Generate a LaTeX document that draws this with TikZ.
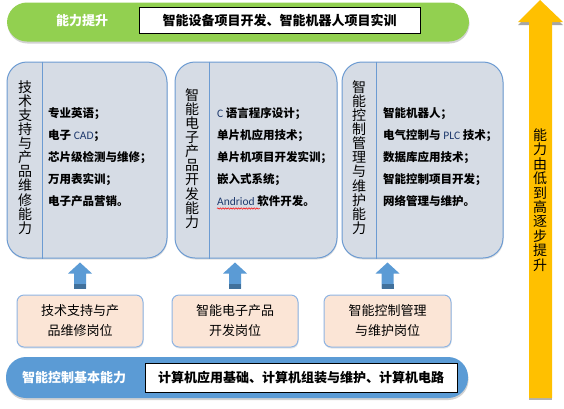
\documentclass[tikz,border=0pt]{standalone}
\usepackage{fontspec}
\setmainfont{Noto Sans CJK SC}
\newfontfamily\latinf{Carlito}
\usetikzlibrary{shadows,calc,decorations.pathmorphing}
\definecolor{greenbar}{HTML}{92D050}
\definecolor{bluebar}{HTML}{5B9BD5}
\definecolor{boxfill}{HTML}{D6DCE5}
\definecolor{boxline}{HTML}{6C9BD2}
\definecolor{pinkfill}{HTML}{FBE5D6}
\definecolor{pinkline}{HTML}{8EB4E3}
\definecolor{yellowarrow}{HTML}{FFC000}
\definecolor{arrowblue}{HTML}{5B9BD5}
\definecolor{arrowdark}{HTML}{41719C}
\definecolor{latinblue}{HTML}{1F3A6E}
\newcommand\lat[1]{{\latinf\mdseries\color{latinblue}#1}}
\newcommand\tightlines{\lineskiplimit=-20pt\relax\lineskip=0pt\relax}
\begin{document}
\begin{tikzpicture}[x=1pt,y=-1pt,
  bar/.style={rounded corners=20pt, inner sep=0pt,
    drop shadow={shadow xshift=0.5pt, shadow yshift=-2pt, opacity=0.35}},
  whitebox/.style={draw=black, line width=0.8pt, fill=white, inner sep=0pt},
  bartext/.style={text=white, font=\fontsize{13}{15}\selectfont\bfseries},
  boxtext/.style={text=black, font=\fontsize{13}{15}\selectfont\bfseries},
  bigbox/.style={draw=boxline, fill=boxfill, line width=1pt, rounded corners=20pt,
    minimum height=196pt, inner sep=0pt,
    drop shadow={shadow xshift=0.5pt, shadow yshift=-1.5pt, opacity=0.25}},
  vtitle/.style={align=center, inner sep=0pt, font=\fontsize{14}{14.1}\selectfont\tightlines},
  content/.style={align=left, anchor=west, inner sep=0pt, font=\fontsize{11.5}{22}\selectfont\bfseries},
  pinkbox/.style={draw=pinkline, fill=pinkfill, line width=1pt, rounded corners=7pt,
    minimum height=52pt, inner sep=0pt, align=center, font=\fontsize{13}{20}\selectfont,
    drop shadow={shadow xshift=0.5pt, shadow yshift=-1.5pt, opacity=0.2}},
  divider/.style={draw=boxline, line width=0.8pt}
]
\useasboundingbox (0,0) rectangle (564,408);
\fill[white] (0,0) rectangle (564,408);

% yellow arrow
\coordinate (ytip) at (540,0);
\coordinate (ybot) at (540,398);
\fill[gray!70] ($(ytip)+(-22,25)$) -- ($(ytip)+(0,3)$) -- ($(ytip)+(23,25)$) -- cycle;
\fill[gray!60] ($(ybot)+(-11,0)$) rectangle ($(ybot)+(12,2)$);
\fill[yellowarrow] (ytip) -- ($(ytip)+(23,22)$) -- ($(ytip)+(12,22)$) -- ($(ybot)+(12,0)$)
  -- ($(ybot)+(-11,0)$) -- ($(ytip)+(-11,22)$) -- ($(ytip)+(-22,22)$) -- cycle;
\node[vtitle, font=\fontsize{14}{14.4}\selectfont\tightlines] (ytext) at (540,200)
  {能\\力\\由\\低\\到\\高\\逐\\步\\提\\升};

% top bar
\node[bar, fill=greenbar, minimum width=462pt, minimum height=39pt] (top) at (238,22) {};
\node[bartext] (toplabel) at (82,21) {能力提升};
\node[whitebox, minimum width=281pt, minimum height=26pt, boxtext] (topbox) at (279.5,20)
  {智能设备项目开发、智能机器人项目实训};

% bottom bar
\node[bar, fill=bluebar, minimum width=462pt, minimum height=41pt] (bot) at (237,377.5) {};
\node[bartext] (botlabel) at (74,378) {智能控制基本能力};
\node[whitebox, minimum width=312pt, minimum height=29pt, boxtext] (botbox) at (301,377.5)
  {计算机应用基础、计算机组装与维护、计算机电路};

% big boxes
\node[bigbox, minimum width=160pt] (b1) at (87,160) {};
\node[bigbox, minimum width=162pt] (b2) at (256,160) {};
\node[bigbox, minimum width=161pt] (b3) at (422.5,160) {};
\draw[divider] ($(b1.north west)+(36,0)$) -- ($(b1.south west)+(36,0)$);
\draw[divider] ($(b2.north west)+(35,0)$) -- ($(b2.south west)+(35,0)$);
\draw[divider] ($(b3.north west)+(35,0)$) -- ($(b3.south west)+(35,0)$);

\node[vtitle] (t1) at (25,157.5) {技\\术\\支\\持\\与\\产\\品\\维\\修\\能\\力};
\node[vtitle] (t2) at (192,158.5) {智\\能\\电\\子\\产\\品\\开\\发\\能\\力};
\node[vtitle] (t3) at (359,157.5) {智\\能\\控\\制\\管\\理\\与\\维\\护\\能\\力};

\node[content] (c1) at (48,157.5) {专业英语；\\电子 \lat{CAD}；\\芯片级检测与维修；\\万用表实训；\\电子产品营销。};
\node[content] (c2) at (217,157.5) {\lat{C} 语言程序设计；\\单片机应用技术；\\单片机项目开发实训；\\嵌入式系统；\\\lat{Andriod} 软件开发。};
\node[content] (c3) at (383,157.5) {智能机器人；\\电气控制与 \lat{PLC} 技术；\\数据库应用技术；\\智能控制项目开发；\\网络管理与维护。};
\draw[red, line width=0.5pt, decorate, decoration={snake, amplitude=0.7pt, segment length=2.6pt}]
  ($(c2.west)+(0,51)$) -- ($(c2.west)+(43,51)$);

% pink boxes
\node[pinkbox, minimum width=126pt] (p1) at (80,321) {技术支持与产\\品维修岗位};
\node[pinkbox, minimum width=126pt] (p2) at (235,321) {智能电子产品\\开发岗位};
\node[pinkbox, minimum width=127pt] (p3) at (387.5,321) {智能控制管理\\与维护岗位};

% blue block arrows
\foreach \p/\b in {p1/b1, p2/b2, p3/b3}{
  \fill[arrowblue] ($(\p.north)+(-6,-6)$) -- ($(\p.north)+(-6,-21)$) -- ($(\p.north)+(-12,-21)$)
    -- ($(\b.south -| \p.north)+(0,4)$) -- ($(\p.north)+(12,-21)$) -- ($(\p.north)+(6,-21)$)
    -- ($(\p.north)+(6,-6)$) -- cycle;
  \fill[arrowdark] ($(\p.north)+(-6,-6)$) rectangle ($(\p.north)+(6,-11)$);
}
\end{tikzpicture}
\end{document}
